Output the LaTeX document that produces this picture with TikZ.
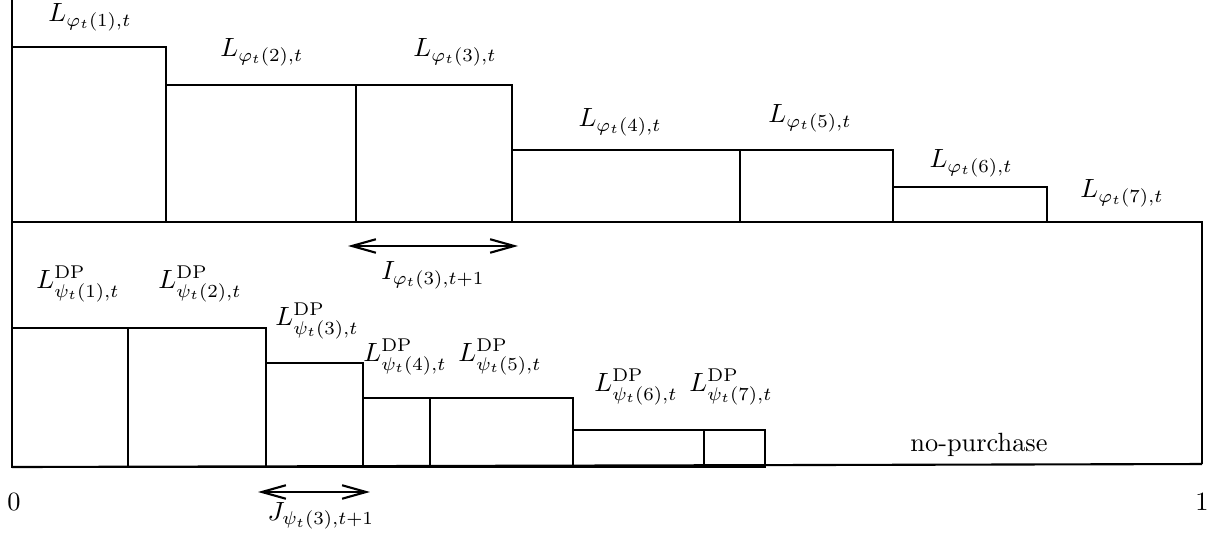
\documentclass[tikz,border=0pt]{standalone}
\usepackage{amsmath}
\usetikzlibrary{arrows.meta}
\tikzset{
  bar/.style={thick},
  frame/.style={thick},
  span/.style={thick,{Straight Barb[length=3.2mm,width=1.8mm]}-{Straight Barb[length=3.2mm,width=1.8mm]}},
  lab/.style={inner sep=0pt},
}
\begin{document}
\begin{tikzpicture}
    \useasboundingbox (-0.16,-0.92) rectangle (16.16,6.227);
    % top: assortment phi_t
    \draw[frame] (0,6.227) -- (0,0);
    \draw[frame] (0,3.267) -- (15.867,3.267) -- (15.867,0.04);
    \draw[bar] (0,3.267) rectangle (2.053,5.6);
    \draw[bar] (2.053,3.267) rectangle (4.587,5.093);
    \draw[bar] (4.587,3.267) rectangle (6.667,5.093);
    \draw[bar] (6.667,3.267) rectangle (9.707,4.227);
    \draw[bar] (9.707,3.267) rectangle (11.747,4.227);
    \draw[bar] (11.747,3.267) rectangle (13.8,3.733);
    \node[lab] (top1) at (1.04,6.0) {$L_{\varphi_t(1),t}$};
    \node[lab] (top2) at (3.333,5.533) {$L_{\varphi_t(2),t}$};
    \node[lab] (top3) at (5.907,5.533) {$L_{\varphi_t(3),t}$};
    \node[lab] (top4) at (8.107,4.6) {$L_{\varphi_t(4),t}$};
    \node[lab] (top5) at (10.64,4.653) {$L_{\varphi_t(5),t}$};
    \node[lab] (top6) at (12.787,4.053) {$L_{\varphi_t(6),t}$};
    \node[lab] (top7) at (14.8,3.653) {$L_{\varphi_t(7),t}$};
    \coordinate (ia) at (4.48,2.947);
    \coordinate (ib) at (6.747,2.947);
    \draw[span] (ia) -- (ib);
    \node[lab] (ilab) at (5.613,2.56) {$I_{\varphi_t(3),t+1}$};
    % bottom: DP assortment psi_t
    \draw[frame] (0,0) -- (15.867,0.04);
    \draw[bar] (0,0) rectangle (1.547,1.853);
    \draw[bar] (1.547,0) rectangle (3.387,1.853);
    \draw[bar] (3.387,0) rectangle (4.68,1.387);
    \draw[bar] (4.68,0) rectangle (5.573,0.92);
    \draw[bar] (5.573,0) rectangle (7.48,0.92);
    \draw[bar] (7.48,0) rectangle (9.227,0.493);
    \draw[bar] (9.227,0) rectangle (10.04,0.493);
    \node[lab] (dp1) at (0.88,2.44) {$L^{\mathrm{DP}}_{\psi_t(1),t}$};
    \node[lab] (dp2) at (2.507,2.44) {$L^{\mathrm{DP}}_{\psi_t(2),t}$};
    \node[lab] (dp3) at (4.067,1.947) {$L^{\mathrm{DP}}_{\psi_t(3),t}$};
    \node[lab] (dp4) at (5.24,1.467) {$L^{\mathrm{DP}}_{\psi_t(4),t}$};
    \node[lab] (dp5) at (6.507,1.467) {$L^{\mathrm{DP}}_{\psi_t(5),t}$};
    \node[lab] (dp6) at (8.32,1.067) {$L^{\mathrm{DP}}_{\psi_t(6),t}$};
    \node[lab] (dp7) at (9.587,1.067) {$L^{\mathrm{DP}}_{\psi_t(7),t}$};
    \node[lab] (nopurch) at (12.893,0.293) {no-purchase};
    \coordinate (ja) at (3.28,-0.333);
    \coordinate (jb) at (4.773,-0.333);
    \draw[span] (ja) -- (jb);
    \node[lab] (jlab) at (4.12,-0.65) {$J_{\psi_t(3),t+1}$};
    \node[lab] (zero) at (0.027,-0.467) {$0$};
    \node[lab] (one) at (15.867,-0.467) {$1$};
\end{tikzpicture}
\end{document}
